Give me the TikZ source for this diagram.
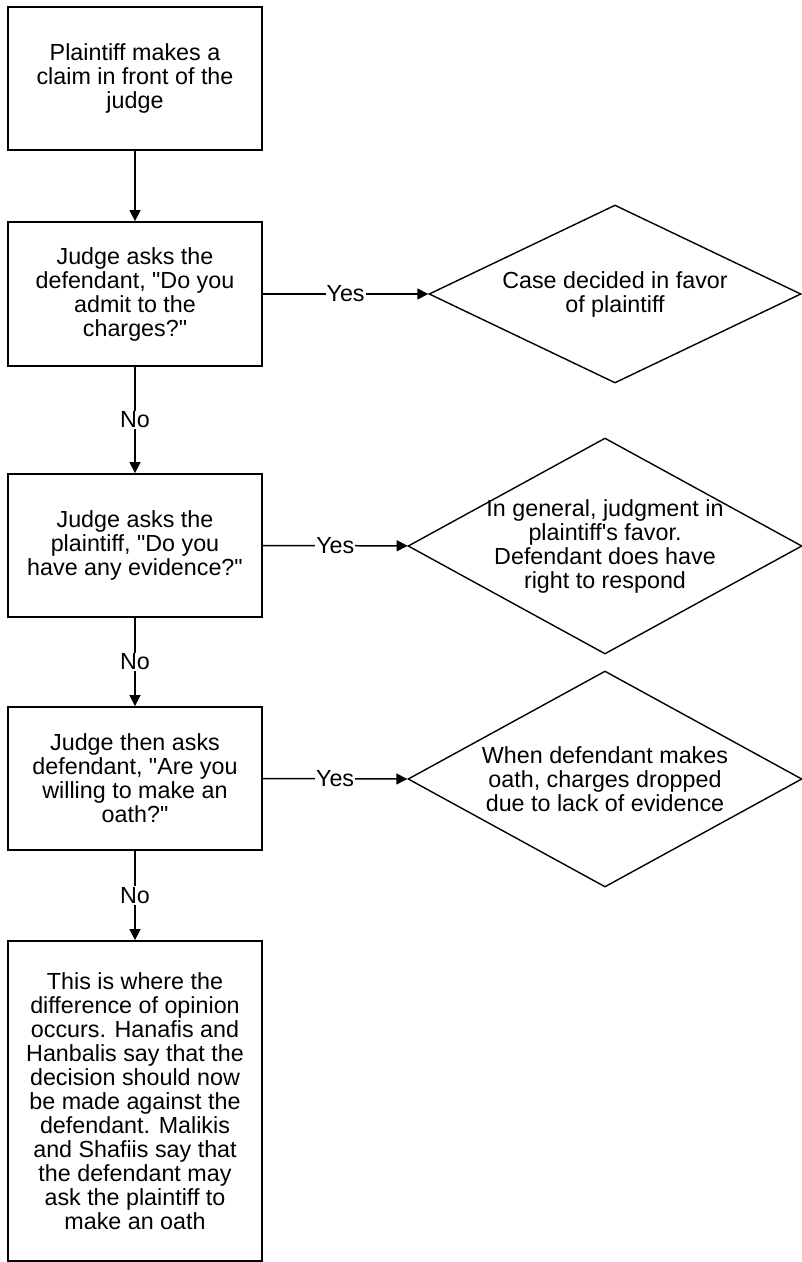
\documentclass[tikz,border=0pt]{standalone}
\usepackage{fontspec}
\setmainfont{Liberation Sans}
\usetikzlibrary{shapes.geometric,arrows.meta}

\begin{document}
\begin{tikzpicture}[x=1pt, y=-1pt,
    every node/.style={font=\fontsize{23.3}{24}\selectfont},
    stepbox/.style={draw, rectangle, line width=1.8pt, minimum width=254pt, inner sep=0pt, align=center},
    outcome/.style={draw, diamond, line width=1.4pt, inner sep=0pt},
    outcometext/.style={align=center, inner sep=0pt},
    flow/.style={line width=1.5pt, -{Triangle[length=11pt,width=11pt]}},
    answer/.style={fill=white, inner sep=1pt}]
    \useasboundingbox (0,0) rectangle (802,1262);

    % questions down the left side
    \node[stepbox, minimum height=143pt] (claim) at (135,78.5) {Plaintiff makes a\\claim in front of the\\judge};
    \node[stepbox, minimum height=144pt] (admit) at (135,294) {Judge asks the\\defendant, \textquotedbl Do you\\admit to the\\charges?\textquotedbl};
    \node[stepbox, minimum height=143pt] (evidence) at (135,545.5) {Judge asks the\\plaintiff, \textquotedbl Do you\\have any evidence?\textquotedbl};
    \node[stepbox, minimum height=143pt] (oath) at (135,778.5) {Judge then asks\\defendant, \textquotedbl Are you\\willing to make an\\oath?\textquotedbl};
    \node[stepbox, minimum height=320pt] (opinion) at (135,1101) {This is where the\\difference of opinion\\occurs. Hanafis and\\Hanbalis say that the\\decision should now\\be made against the\\defendant. Malikis\\and Shafiis say that\\the defendant may\\ask the plaintiff to\\make an oath};

    % outcomes on the right
    \node[outcome, minimum width=372pt, minimum height=178pt] (favor) at (615,294) {};
    \node[outcometext] (favortext) at (favor) {Case decided in favor\\of plaintiff};
    \node[outcome, minimum width=394pt, minimum height=216pt] (respond) at (605,546) {};
    \node[outcometext] (respondtext) at (respond) {In general, judgment in\\plaintiff\textquotesingle s favor.\\Defendant does have\\right to respond};
    \node[outcome, minimum width=394pt, minimum height=216pt] (dropped) at (605,779) {};
    \node[outcometext] (droppedtext) at (dropped) {When defendant makes\\oath, charges dropped\\due to lack of evidence};

    \draw[flow] (claim) -- (admit);
    \draw[flow] (admit) -- node[answer] {No} (evidence);
    \draw[flow] (evidence) -- node[answer] {No} (oath);
    \draw[flow] (oath) -- node[answer] {No} (opinion);

    \draw[flow] (admit) -- node[answer] {Yes} (favor);
    \draw[flow] (evidence) -- node[answer] {Yes} (respond);
    \draw[flow] (oath.east) -- node[answer] {Yes} (dropped.west);
\end{tikzpicture}
\end{document}
